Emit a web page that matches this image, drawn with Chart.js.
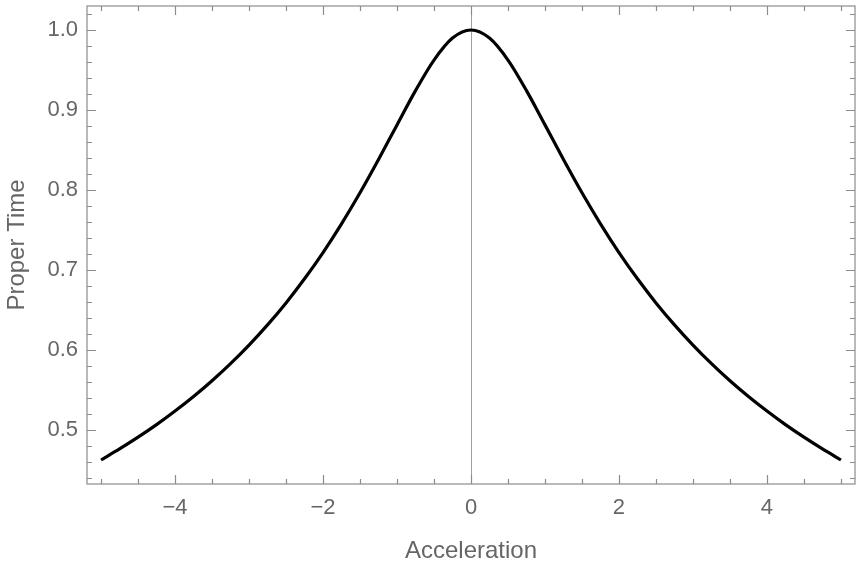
<!DOCTYPE html>
<html>
<head>
<meta charset="utf-8">
<script src="https://cdn.jsdelivr.net/npm/chart.js@4/dist/chart.umd.min.js"></script>
<style>
  html, body { margin: 0; padding: 0; background: #fff; }
  #wrap { width: 856px; height: 566px; }
</style>
</head>
<body>
<div id="wrap"><canvas id="chart" width="856" height="566"></canvas></div>
<script>
// acceleration vs proper time
const accel = [-5, -4.75, -4.5, -4.25, -4, -3.75, -3.5, -3.25, -3, -2.75, -2.5, -2.25, -2, -1.75, -1.5, -1.25, -1, -0.75, -0.5, -0.25,
  0, 0.25, 0.5, 0.75, 1, 1.25, 1.5, 1.75, 2, 2.25, 2.5, 2.75, 3, 3.25, 3.5, 3.75, 4, 4.25, 4.5, 4.75, 5];
const properTime = [0.4625, 0.4763, 0.4910, 0.5067, 0.5237, 0.5419, 0.5616, 0.5830, 0.6062, 0.6314, 0.6589, 0.6890, 0.7218, 0.7577, 0.7965, 0.8381, 0.8814, 0.9242, 0.9624, 0.9899,
  1.0, 0.9899, 0.9624, 0.9242, 0.8814, 0.8381, 0.7965, 0.7577, 0.7218, 0.6890, 0.6589, 0.6314, 0.6062, 0.5830, 0.5616, 0.5419, 0.5237, 0.5067, 0.4910, 0.4763, 0.4625];

const xTicks = [-4, -2, 0, 2, 4];
const yTicks = [0.5, 0.6, 0.7, 0.8, 0.9, 1.0];

const FONT = '"Liberation Sans", Arial, Helvetica, sans-serif';
const AXIS_GRAY = '#8c8c8c';
const TEXT_GRAY = '#666666';

// Mathematica-ish frame: box, inward ticks on all four sides, line at x=0
const framePlugin = {
  id: 'frame',
  beforeDatasetsDraw(chart) {
    const { ctx, chartArea: a, scales: { x } } = chart;
    ctx.save();
    ctx.strokeStyle = '#a0a0a0';
    ctx.lineWidth = 1;
    const x0 = Math.round(x.getPixelForValue(0)) + 0.5;
    ctx.beginPath();
    ctx.moveTo(x0, a.top);
    ctx.lineTo(x0, a.bottom);
    ctx.stroke();
    ctx.restore();
  },
  afterDatasetsDraw(chart) {
    const { ctx, chartArea: a, scales: { x, y } } = chart;
    ctx.save();
    ctx.strokeStyle = AXIS_GRAY;
    ctx.lineWidth = 1.2;
    ctx.strokeRect(a.left, a.top, a.right - a.left, a.bottom - a.top);

    ctx.beginPath();
    // x ticks every 0.5, long ones on the labelled values
    for (let i = -10; i <= 10; i++) {
      const v = i / 2;
      const len = (i % 4 === 0) ? 9 : 5;
      const px = Math.round(x.getPixelForValue(v)) + 0.5;
      ctx.moveTo(px, a.bottom); ctx.lineTo(px, a.bottom - len);
      ctx.moveTo(px, a.top); ctx.lineTo(px, a.top + len);
    }
    // y ticks every 0.02
    for (let i = 22; i <= 51; i++) {
      const v = i / 50;
      const len = (i % 5 === 0) ? 9 : 5;
      const py = Math.round(y.getPixelForValue(v)) + 0.5;
      ctx.moveTo(a.left, py); ctx.lineTo(a.left + len, py);
      ctx.moveTo(a.right, py); ctx.lineTo(a.right - len, py);
    }
    ctx.stroke();
    ctx.restore();
  }
};

new Chart(document.getElementById('chart'), {
  type: 'line',
  data: {
    datasets: [{
      data: accel.map((a, i) => ({ x: a, y: properTime[i] })),
      borderColor: '#000',
      borderWidth: 3.2,
      pointRadius: 0,
      cubicInterpolationMode: 'monotone',
      fill: false
    }]
  },
  options: {
    responsive: false,
    animation: false,
    layout: { padding: { top: 6, right: 1, left: 0, bottom: 0 } },
    plugins: { legend: { display: false }, tooltip: { enabled: false } },
    scales: {
      x: {
        type: 'linear',
        min: -5.19,
        max: 5.19,
        afterBuildTicks: s => { s.ticks = xTicks.map(v => ({ value: v })); },
        afterFit: s => { s.height = 82; s.paddingLeft = 0; s.paddingRight = 0; },
        grid: { display: false, drawTicks: false },
        border: { display: false },
        ticks: {
          padding: 11,
          color: TEXT_GRAY,
          font: { family: FONT, size: 22 },
          maxRotation: 0,
          callback: v => v < 0 ? '\u2212' + Math.abs(v) : String(v)
        },
        title: {
          display: true,
          text: 'Acceleration',
          color: TEXT_GRAY,
          font: { family: FONT, size: 24 },
          padding: { top: 0, bottom: 0 }
        }
      },
      y: {
        min: 0.4325,
        max: 1.03,
        afterBuildTicks: s => { s.ticks = yTicks.map(v => ({ value: v })); },
        afterFit: s => { s.width = 87; s.paddingTop = 0; s.paddingBottom = 0; },
        grid: { display: false, drawTicks: false },
        border: { display: false },
        ticks: {
          padding: 9,
          color: TEXT_GRAY,
          font: { family: FONT, size: 22 },
          callback: v => v.toFixed(1)
        },
        title: {
          display: true,
          text: 'Proper Time',
          color: TEXT_GRAY,
          font: { family: FONT, size: 24 },
          padding: { top: 3, bottom: 0 }
        }
      }
    }
  },
  plugins: [framePlugin]
});
</script>
</body>
</html>
